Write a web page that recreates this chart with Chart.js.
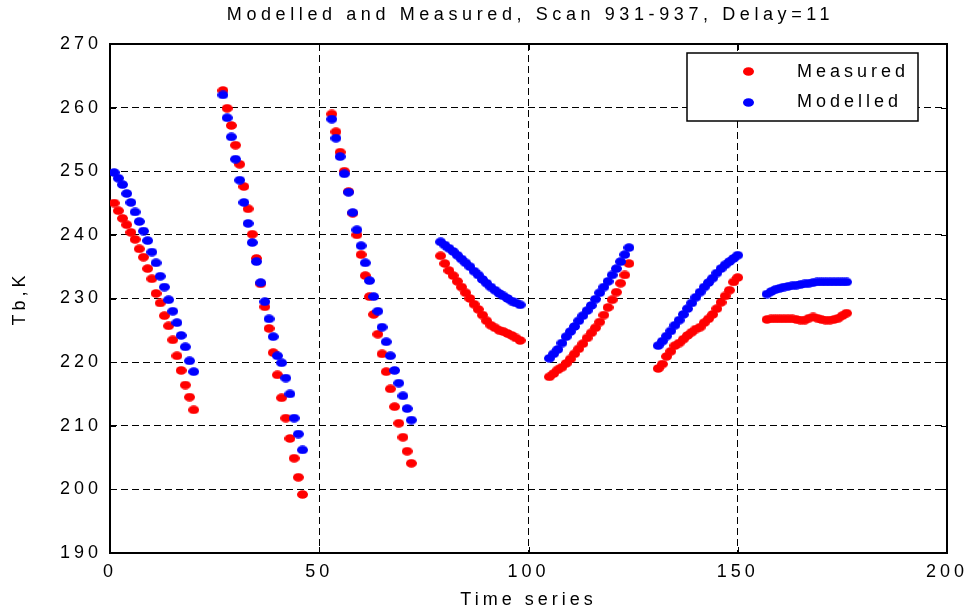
<!DOCTYPE html>
<html><head><meta charset="utf-8">
<script src="https://cdn.jsdelivr.net/npm/chart.js@4/dist/chart.umd.min.js"></script>
<style>html,body{margin:0;padding:0;background:#fff}#wrap{width:972px;height:615px}</style>
</head><body><div id="wrap"><canvas id="c" width="972" height="615"></canvas></div>
<script>
// Time index of each sample (scans 931-937, 20 samples each)
const timeIndex = [
  1,2,3,4,5,6,7,8,9,10,11,12,13,14,15,16,17,18,19,20,
  27,28,29,30,31,32,33,34,35,36,37,38,39,40,41,42,43,44,45,46,
  53,54,55,56,57,58,59,60,61,62,63,64,65,66,67,68,69,70,71,72,
  79,80,81,82,83,84,85,86,87,88,89,90,91,92,93,94,95,96,97,98,
  105,106,107,108,109,110,111,112,113,114,115,116,117,118,119,120,121,122,123,124,
  131,132,133,134,135,136,137,138,139,140,141,142,143,144,145,146,147,148,149,150,
  157,158,159,160,161,162,163,164,165,166,167,168,169,170,171,172,173,174,175,176
];
const measured = [
  245.0,243.8,242.6,241.6,240.4,239.3,237.8,236.5,234.7,233.1,230.8,229.3,227.3,225.7,223.5,221.0,218.7,216.4,214.5,212.5,
  262.7,259.9,257.2,254.1,251.1,247.6,244.1,240.1,236.3,232.3,228.7,225.3,221.5,218.0,214.4,211.2,208.0,204.9,201.9,199.2,
  259.0,256.2,253.0,250.0,246.8,243.4,240.0,236.9,233.6,230.3,227.5,224.4,221.3,218.5,215.8,213.0,210.4,208.2,206.0,204.1,
  236.7,235.5,234.4,233.6,232.7,231.8,230.9,230.0,229.1,228.3,227.4,226.5,225.8,225.4,225.0,224.8,224.5,224.2,223.8,223.4,
  217.7,218.2,218.8,219.2,219.8,220.5,221.3,222.1,222.9,223.8,224.6,225.4,226.3,227.4,228.6,229.8,231.0,232.4,233.7,235.5,
  219.0,219.7,220.9,221.7,222.6,223.0,223.6,224.2,224.7,225.2,225.5,226.2,226.8,227.5,228.4,229.4,230.4,231.3,232.6,233.3,
  226.7,226.8,226.8,226.8,226.8,226.8,226.8,226.7,226.6,226.6,226.9,227.1,226.9,226.7,226.6,226.6,226.7,226.9,227.3,227.7
];
const modelled = [
  249.8,248.9,247.9,246.5,245.1,243.6,242.1,240.6,239.1,237.3,235.6,233.5,231.8,229.8,228.0,226.2,224.2,222.4,220.2,218.5,
  262.0,258.4,255.4,251.9,248.6,245.1,241.8,238.8,235.8,232.5,229.5,226.8,224.0,221.0,219.9,217.5,215.0,211.2,208.7,206.2,
  258.2,255.2,252.3,249.6,246.7,243.5,240.8,238.3,235.6,232.8,230.3,228.0,225.5,223.2,221.0,218.7,216.7,214.7,212.7,210.9,
  238.9,238.4,237.9,237.4,236.8,236.2,235.6,235.0,234.3,233.7,233.0,232.4,231.8,231.3,230.8,230.4,230.0,229.6,229.3,229.0,
  220.6,221.3,222.0,223.0,224.0,224.8,225.6,226.5,227.3,228.1,228.9,229.9,230.9,231.8,232.7,233.7,234.7,235.8,236.9,238.0,
  222.6,223.3,224.1,224.9,225.8,226.6,227.5,228.4,229.3,230.2,231.0,231.8,232.5,233.2,234.0,234.7,235.3,235.8,236.3,236.8,
  230.7,231.1,231.4,231.6,231.8,231.9,232.0,232.1,232.2,232.3,232.4,232.5,232.6,232.6,232.6,232.6,232.6,232.6,232.6,232.6
];
const seriesNames = ['Measured', 'Modelled'];
const xTicks = [0, 50, 100, 150, 200];
const yTicks = [190, 200, 210, 220, 230, 240, 250, 260, 270];
const titleText = 'Modelled and Measured, Scan 931-937, Delay=11';
const xLabel = 'Time series';
const yLabel = 'Tb,K';

const FONT = "'Liberation Sans', Arial, sans-serif";
const RED = '#ff0000', BLUE = '#0000ff';

function dot(color) {
  const c = document.createElement('canvas');
  c.width = 11; c.height = 9;
  const g = c.getContext('2d');
  g.fillStyle = color;
  g.beginPath(); g.ellipse(5.5, 4.5, 5.5, 4.3, 0, 0, Math.PI * 2); g.fill();
  return c;
}
const redDot = dot(RED), blueDot = dot(BLUE);

const spacingPlugin = {
  id: 'spacing',
  beforeDraw(chart) { chart.ctx.letterSpacing = '4px'; }
};

const boxPlugin = {
  id: 'box',
  beforeDatasetsDraw(chart) {
    const {ctx, chartArea: a, scales: {x, y}} = chart;
    ctx.save();
    ctx.strokeStyle = '#000';
    ctx.lineWidth = 1;
    ctx.setLineDash([]);
    ctx.beginPath();
    const tl = 6;
    xTicks.forEach(v => {
      const px = Math.round(x.getPixelForValue(v)) + 0.5;
      ctx.moveTo(px, a.bottom); ctx.lineTo(px, a.bottom - tl);
      ctx.moveTo(px, a.top); ctx.lineTo(px, a.top + tl);
    });
    yTicks.forEach(v => {
      const py = Math.round(y.getPixelForValue(v)) + 0.5;
      ctx.moveTo(a.left, py); ctx.lineTo(a.left + tl, py);
      ctx.moveTo(a.right, py); ctx.lineTo(a.right - tl, py);
    });
    ctx.stroke();
    ctx.lineWidth = 2;
    ctx.strokeRect(a.left, a.top, a.right - a.left, a.bottom - a.top);
    ctx.restore();
  }
};

const titlePlugin = {
  id: 'mtitle',
  afterDraw(chart) {
    const {ctx, chartArea: a} = chart;
    ctx.save();
    ctx.fillStyle = '#000';
    ctx.font = '18px ' + FONT;
    ctx.letterSpacing = '4.6px';
    ctx.textBaseline = 'middle';
    ctx.textAlign = 'center';
    ctx.fillText(titleText, (a.left + a.right) / 2 + 2, 15);
    ctx.restore();
  }
};

const legendPlugin = {
  id: 'mlegend',
  afterDatasetsDraw(chart) {
    const ctx = chart.ctx;
    ctx.save();
    ctx.setLineDash([]);
    ctx.fillStyle = '#fff';
    ctx.fillRect(687, 53, 231, 68);
    ctx.strokeStyle = '#000';
    ctx.lineWidth = 1.5;
    ctx.strokeRect(687, 53, 231, 68);
    ctx.drawImage(redDot, 743, 67);
    ctx.drawImage(blueDot, 743, 98);
    ctx.fillStyle = '#000';
    ctx.font = '18px ' + FONT;
    ctx.letterSpacing = '4px';
    ctx.textBaseline = 'middle';
    ctx.textAlign = 'left';
    ctx.fillText(seriesNames[0], 797, 72);
    ctx.fillText(seriesNames[1], 797, 102);
    ctx.restore();
  }
};

new Chart(document.getElementById('c'), {
  type: 'scatter',
  data: {
    datasets: [
      { label: seriesNames[1], data: timeIndex.map((t, i) => ({x: t, y: modelled[i]})),
        pointStyle: blueDot, backgroundColor: BLUE, borderColor: BLUE, pointRadius: 5 },
      { label: seriesNames[0], data: timeIndex.map((t, i) => ({x: t, y: measured[i]})),
        pointStyle: redDot, backgroundColor: RED, borderColor: RED, pointRadius: 5 }
    ]
  },
  options: {
    responsive: false,
    animation: false,
    devicePixelRatio: 1,
    layout: { padding: { left: 0, right: 25, top: 44, bottom: 0 } },
    plugins: {
      legend: { display: false },
      tooltip: { enabled: false },
      title: { display: false }
    },
    scales: {
      x: {
        type: 'linear', min: 0, max: 200,
        afterBuildTicks: s => { s.ticks = xTicks.map(v => ({value: v})); },
        afterFit: s => { s.height = 62; },
        ticks: { color: '#000', font: { family: FONT, size: 18 }, padding: 8, maxRotation: 0 },
        grid: { color: '#000', lineWidth: 1, drawTicks: false },
        border: { display: false, dash: [7, 4] },
        title: { display: true, text: xLabel, color: '#000',
          font: { family: FONT, size: 18, lineHeight: 1.2 }, padding: { top: 0, bottom: 4 } }
      },
      y: {
        type: 'linear', min: 190, max: 270,
        afterBuildTicks: s => { s.ticks = yTicks.map(v => ({value: v})); },
        afterFit: s => { s.width = 110; },
        ticks: { color: '#000', font: { family: FONT, size: 18 }, padding: 8 },
        grid: { color: '#000', lineWidth: 1, drawTicks: false },
        border: { display: false, dash: [7, 4] },
        title: { display: true, text: yLabel, color: '#000',
          font: { family: FONT, size: 18, lineHeight: 1.2 }, padding: { top: 9, bottom: 0 } }
      }
    }
  },
  plugins: [spacingPlugin, boxPlugin, legendPlugin, titlePlugin]
});
</script>
</body></html>
